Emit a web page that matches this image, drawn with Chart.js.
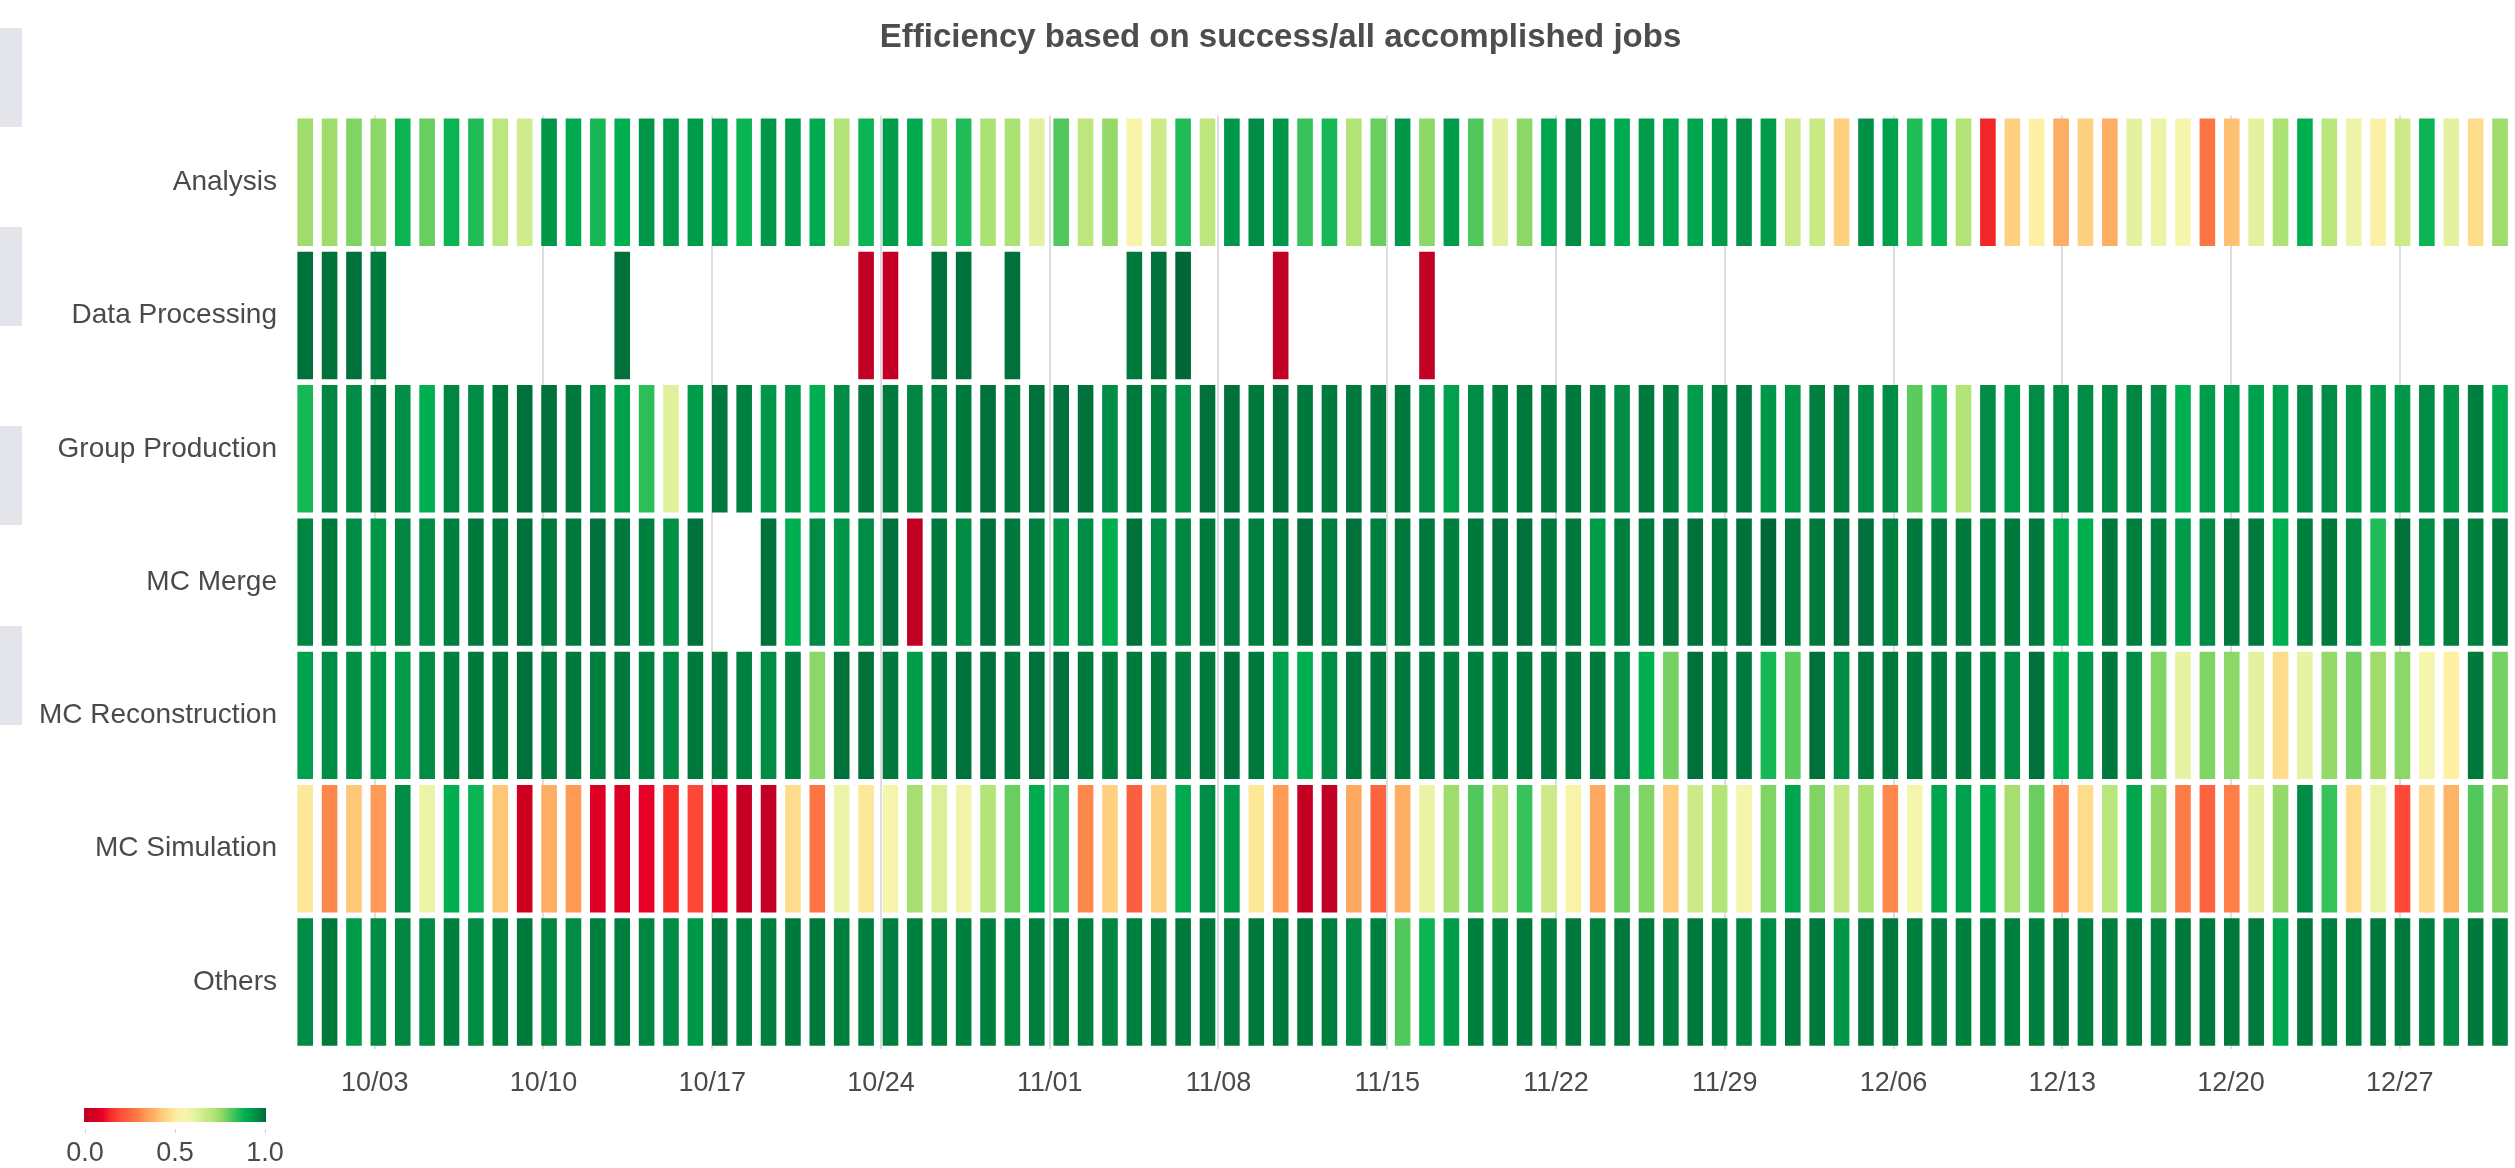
<!DOCTYPE html>
<html>
<head>
<meta charset="utf-8">
<title>Efficiency based on success/all accomplished jobs</title>
<script src="https://cdn.jsdelivr.net/npm/chart.js"></script>
<style>
  html, body { margin: 0; padding: 0; background: #fff; overflow: hidden; }
  body { width: 2515px; height: 1168px; position: relative; font-family: "Liberation Sans", Arial, sans-serif; }
  #chart { position: absolute; left: 0; top: 0; }
  .side { position: absolute; left: 0; width: 22px; height: 99px; background: #e4e5ea; }
  #scalebar { position: absolute; left: 84px; top: 1108px; width: 182px; height: 14px; }
  .stick { position: absolute; top: 1129px; width: 1px; height: 4px; background: #cfcfcf; }
  .slabel { position: absolute; top: 1137px; width: 60px; margin-left: -30px; text-align: center; font-size: 27px; color: #4a4a4a; }
</style>
</head>
<body>
<canvas id="chart" width="2561" height="1129"></canvas>
<div class="side" style="top:28px"></div>
<div class="side" style="top:227px"></div>
<div class="side" style="top:426px"></div>
<div class="side" style="top:626px"></div>
<div id="scalebar"></div>
<script>
// rows of the heatmap, top to bottom
const categories = ['Analysis', 'Data Processing', 'Group Production', 'MC Merge',
    'MC Reconstruction', 'MC Simulation', 'Others'];

// weekly tick labels on the date axis
const tickLabels = ['10/03', '10/10', '10/17', '10/24', '11/01', '11/08', '11/15',
    '11/22', '11/29', '12/06', '12/13', '12/20', '12/27'];

// efficiency per day (success / all accomplished jobs), one value per column
const analysis = [
    0.74, 0.74, 0.77, 0.76, 0.87, 0.79, 0.87, 0.85, 0.69, 0.65,
    0.93, 0.89, 0.86, 0.88, 0.93, 0.92, 0.92, 0.91, 0.87, 0.93,
    0.92, 0.89, 0.71, 0.87, 0.92, 0.89, 0.72, 0.85, 0.72, 0.72,
    0.61, 0.81, 0.69, 0.75, 0.55, 0.66, 0.85, 0.69, 0.93, 0.95,
    0.93, 0.83, 0.86, 0.71, 0.79, 0.93, 0.76, 0.92, 0.81, 0.61,
    0.76, 0.90, 0.95, 0.91, 0.89, 0.92, 0.90, 0.90, 0.92, 0.94,
    0.92, 0.66, 0.67, 0.44, 0.94, 0.91, 0.85, 0.87, 0.71, 0.14,
    0.44, 0.52, 0.38, 0.44, 0.38, 0.61, 0.58, 0.56, 0.28, 0.41,
    0.61, 0.72, 0.88, 0.70, 0.58, 0.53, 0.66, 0.87, 0.61, 0.47,
    0.74, 0.91, 0.86
];

const dataProcessing = [
    0.99, 0.99, 0.99, 0.98, null, null, null, null, null, null,
    null, null, null, 0.99, null, null, null, null, null, null,
    null, null, null, 0.00, 0.01, null, 0.99, 0.99, null, 0.99,
    null, null, null, null, 0.98, 0.99, 1.00, null, null, null,
    0.00, null, null, null, null, null, 0.00, null, null, null,
    null, null, null, null, null, null, null, null, null, null,
    null, null, null, null, null, null, null, null, null, null,
    null, null, null, null, null, null, null, null, null, null,
    null, null, null, null, null, null, null, null, null, null,
    null, null, null
];

const groupProduction = [
    0.86, 0.96, 0.95, 0.98, 0.94, 0.88, 0.96, 0.95, 0.98, 0.99,
    0.99, 0.98, 0.95, 0.91, 0.84, 0.62, 0.92, 0.98, 0.97, 0.93,
    0.93, 0.88, 0.95, 0.98, 0.98, 0.96, 0.97, 0.98, 0.99, 0.98,
    0.99, 0.99, 0.99, 0.95, 0.98, 0.97, 0.94, 0.99, 0.99, 0.98,
    0.99, 0.98, 0.98, 0.98, 0.98, 0.98, 0.95, 0.91, 0.95, 0.97,
    0.98, 0.98, 0.98, 0.97, 0.95, 0.98, 0.97, 0.92, 0.97, 0.98,
    0.93, 0.93, 0.97, 0.97, 0.95, 0.95, 0.80, 0.85, 0.71, 0.95,
    0.92, 0.95, 0.95, 0.95, 0.95, 0.96, 0.95, 0.88, 0.92, 0.92,
    0.91, 0.91, 0.95, 0.95, 0.93, 0.92, 0.93, 0.95, 0.93, 0.97,
    0.89, 0.93, 0.95
];

const mcMerge = [
    0.96, 0.98, 0.95, 0.93, 0.96, 0.95, 0.97, 0.98, 0.98, 0.99,
    0.98, 0.98, 0.99, 0.98, 0.97, 0.94, 0.99, null, null, 0.99,
    0.88, 0.95, 0.93, 0.95, 0.99, 0.00, 0.98, 0.95, 0.99, 0.98,
    0.97, 0.93, 0.95, 0.88, 0.99, 0.95, 0.96, 0.98, 0.98, 0.97,
    0.98, 0.99, 0.97, 0.99, 0.97, 0.98, 0.98, 0.97, 0.98, 0.99,
    0.99, 0.98, 0.98, 0.92, 0.97, 0.98, 0.99, 0.99, 0.98, 0.99,
    1.00, 0.98, 0.98, 0.99, 0.99, 0.97, 0.98, 0.98, 0.98, 0.97,
    0.98, 0.98, 0.89, 0.88, 0.98, 0.97, 0.97, 0.92, 0.95, 0.98,
    0.98, 0.88, 0.97, 0.98, 0.95, 0.85, 0.99, 0.95, 0.97, 0.97,
    0.98, 0.97, 0.97
];

const mcReconstruction = [
    0.91, 0.95, 0.94, 0.93, 0.92, 0.95, 0.97, 0.98, 0.98, 0.99,
    0.98, 0.98, 0.97, 0.98, 0.97, 0.95, 0.98, 0.98, 0.97, 0.95,
    0.97, 0.76, 0.99, 0.99, 0.98, 0.92, 0.98, 0.99, 0.99, 0.98,
    0.99, 0.99, 0.98, 0.97, 0.98, 0.98, 0.97, 0.98, 0.99, 0.98,
    0.91, 0.88, 0.95, 0.98, 0.98, 0.98, 0.98, 0.97, 0.97, 0.97,
    0.98, 0.98, 0.98, 0.98, 0.95, 0.88, 0.78, 0.99, 0.98, 0.98,
    0.86, 0.80, 0.99, 0.95, 0.98, 0.98, 0.98, 0.98, 0.98, 0.97,
    0.95, 0.99, 0.88, 0.92, 0.98, 0.95, 0.77, 0.60, 0.77, 0.76,
    0.61, 0.47, 0.60, 0.75, 0.78, 0.74, 0.76, 0.56, 0.52, 0.98,
    0.78, 0.95, 0.90
];

const mcSimulation = [
    0.50, 0.31, 0.42, 0.34, 0.95, 0.58, 0.88, 0.87, 0.42, 0.04,
    0.38, 0.34, 0.08, 0.08, 0.10, 0.15, 0.19, 0.10, 0.02, 0.01,
    0.47, 0.28, 0.58, 0.50, 0.56, 0.73, 0.63, 0.57, 0.71, 0.79,
    0.89, 0.83, 0.31, 0.44, 0.24, 0.44, 0.89, 0.95, 0.92, 0.50,
    0.34, 0.02, 0.00, 0.37, 0.25, 0.38, 0.59, 0.74, 0.81, 0.71,
    0.83, 0.66, 0.54, 0.37, 0.79, 0.77, 0.43, 0.66, 0.71, 0.56,
    0.77, 0.90, 0.77, 0.68, 0.72, 0.31, 0.56, 0.90, 0.91, 0.88,
    0.73, 0.79, 0.31, 0.47, 0.70, 0.90, 0.75, 0.29, 0.25, 0.30,
    0.61, 0.75, 0.95, 0.83, 0.47, 0.58, 0.19, 0.46, 0.39, 0.81,
    0.77, 0.80, 0.70
];

const others = [
    0.95, 0.98, 0.92, 0.95, 0.96, 0.95, 0.97, 0.95, 0.97, 0.98,
    0.96, 0.95, 0.97, 0.97, 0.96, 0.95, 0.93, 0.98, 0.97, 0.97,
    0.98, 0.98, 0.97, 0.97, 0.97, 0.97, 0.97, 0.97, 0.97, 0.96,
    0.97, 0.97, 0.97, 0.96, 0.97, 0.98, 0.98, 0.98, 0.98, 0.98,
    0.98, 0.98, 0.97, 0.95, 0.97, 0.81, 0.87, 0.92, 0.97, 0.97,
    0.98, 0.97, 0.98, 0.97, 0.98, 0.98, 0.97, 0.98, 0.97, 0.96,
    0.95, 0.98, 0.98, 0.93, 0.98, 0.98, 0.97, 0.97, 0.97, 0.97,
    0.97, 0.97, 0.98, 0.97, 0.97, 0.97, 0.97, 0.98, 0.98, 0.98,
    0.98, 0.90, 0.98, 0.97, 0.97, 0.98, 0.98, 0.97, 0.95, 0.98,
    0.97, 0.97, 0.97
];

const rows = [analysis, dataProcessing, groupProduction, mcMerge, mcReconstruction, mcSimulation, others];
const scaleTicks = [0, 0.5, 1];

// red - yellow - green colour scale
const colorStops = [
    [0.00, [192, 0, 37]], [0.05, [208, 0, 30]], [0.10, [230, 0, 40]], [0.15, [245, 46, 40]],
    [0.19, [254, 72, 56]], [0.25, [252, 100, 64]], [0.30, [254, 128, 72]], [0.34, [254, 154, 86]],
    [0.38, [254, 174, 98]], [0.43, [254, 204, 124]], [0.47, [254, 220, 140]], [0.52, [253, 240, 164]],
    [0.56, [245, 245, 172]], [0.61, [228, 242, 160]], [0.66, [204, 235, 136]], [0.70, [184, 230, 122]],
    [0.74, [160, 220, 108]], [0.77, [128, 212, 100]], [0.81, [80, 200, 92]], [0.85, [32, 188, 88]],
    [0.88, [0, 176, 80]], [0.92, [0, 156, 74]], [0.95, [0, 140, 68]], [0.98, [0, 122, 60]],
    [1.00, [0, 104, 55]]
];

function colorFor(v) {
    for (let i = 1; i < colorStops.length; i++) {
        const [v1, c1] = colorStops[i];
        if (v <= v1) {
            const [v0, c0] = colorStops[i - 1];
            const t = (v - v0) / (v1 - v0);
            return 'rgb(' + c0.map((a, k) => Math.round(a + (c1[k] - a) * t)).join(',') + ')';
        }
    }
    return 'rgb(' + colorStops[colorStops.length - 1][1].join(',') + ')';
}

// colour bar under the y labels
const bar = document.getElementById('scalebar');
bar.style.background = 'linear-gradient(to right, ' +
    colorStops.map(s => colorFor(s[0]) + ' ' + (s[0] * 100) + '%').join(', ') + ')';
scaleTicks.forEach(t => {
    const x = 84 + t * 180 + 1;
    const tick = document.createElement('div');
    tick.className = 'stick';
    tick.style.left = x + 'px';
    document.body.appendChild(tick);
    const lab = document.createElement('div');
    lab.className = 'slabel';
    lab.style.left = x + 'px';
    lab.textContent = t.toFixed(1);
    document.body.appendChild(lab);
});

const BAR_HALF = 0.478;    // half height of a cell, in row units
const TICK_START = 3.35;   // first weekly tick, in column units
const TICK_STEP = 6.92;

Chart.defaults.font.family = '"Liberation Sans", Arial, sans-serif';
Chart.defaults.color = '#4a4a4a';

const datasets = rows.map((vals, r) => ({
    label: categories[r],
    data: vals.map((v, i) => v === null ? null : { x: i + 0.5, y: [r - BAR_HALF, r + BAR_HALF], v: v })
        .filter(d => d !== null),
    backgroundColor: ctx => ctx.raw ? colorFor(ctx.raw.v) : '#cccccc',
    borderWidth: 0,
    barPercentage: 0.8,
    grouped: false
}));

new Chart(document.getElementById('chart'), {
    type: 'bar',
    data: { datasets: datasets },
    options: {
        responsive: false,
        animation: false,
        events: [],
        layout: { padding: { left: 0, right: 0, top: 0, bottom: 10 } },
        plugins: {
            legend: { display: false },
            tooltip: { enabled: false },
            title: {
                display: true,
                text: 'Efficiency based on success/all accomplished jobs',
                color: '#4d4d4d',
                font: { size: 33, weight: 'bold' },
                padding: { top: 18, bottom: 58 }
            }
        },
        scales: {
            x: {
                type: 'linear',
                min: 0,
                max: 93,
                offset: false,
                grid: { color: '#dedee2', lineWidth: 2, drawTicks: false, offset: false },
                border: { display: false },
                afterBuildTicks: s => { s.ticks = tickLabels.map((_, k) => ({ value: TICK_START + k * TICK_STEP })); },
                ticks: {
                    autoSkip: false,
                    maxRotation: 0,
                    padding: 19,
                    font: { size: 27 },
                    callback: (v, i) => tickLabels[i]
                }
            },
            y: {
                type: 'linear',
                min: -0.5,
                max: 6.5,
                reverse: true,
                grid: { display: false, drawTicks: false },
                border: { display: false },
                afterBuildTicks: s => { s.ticks = categories.map((_, r) => ({ value: r })); },
                afterFit: s => { s.width = 293; },
                ticks: {
                    autoSkip: false,
                    padding: 16,
                    font: { size: 28 },
                    callback: (v, i) => categories[i]
                }
            }
        }
    }
});
</script>
</body>
</html>
